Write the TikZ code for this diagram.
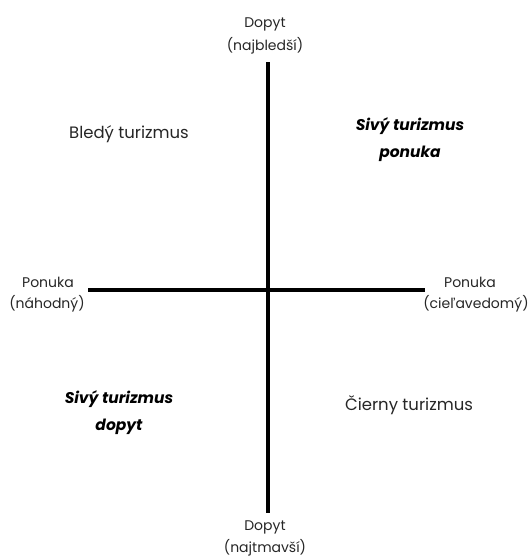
\documentclass[tikz,border=0pt]{standalone}
\usepackage{fontspec}
\setmainfont{Poppins}
\begin{document}
\begin{tikzpicture}[x=1pt,y=-1pt,
  lbl/.style={font=\fontsize{14}{16}\selectfont, text=black!85, align=center, inner sep=0pt},
  big/.style={font=\fontsize{16.5}{18}\selectfont, text=black!85, inner sep=0pt},
  bigbold/.style={font=\fontsize{15.5}{27}\selectfont\bfseries\itshape, text=black, align=center, inner sep=0pt},
  axis/.style={line width=4.5pt, black}]
\useasboundingbox (0,0) rectangle (531,558);
\coordinate (vt) at (268,62);
\coordinate (vb) at (268,513);
\coordinate (hl) at (88,290);
\coordinate (hr) at (425,290);
\draw[axis] (vt) -- (vb);
\draw[axis] (hl) -- (hr);
\node[lbl] (top1) at (265,24) {Dopyt};
\node[lbl] (top2) at (265,46) {(najbledší)};
\node[lbl] (bot1) at (265,527) {Dopyt};
\node[lbl] (bot2) at (265,548) {(najtmavší)};
\node[lbl] (l1) at (48,282) {Ponuka};
\node[lbl] (l2) at (47,304) {(náhodný)};
\node[lbl] (r1) at (470,282) {Ponuka};
\node[lbl] (r2) at (476,304) {(cieľavedomý)};
\node[big] (q1) at (129,134) {Bledý turizmus};
\node[big] (q4) at (409,405) {Čierny turizmus};
\node[bigbold] (q2) at (410,140) {Sivý turizmus\\ponuka};
\node[bigbold] (q3) at (119,413) {Sivý turizmus\\dopyt};
\end{tikzpicture}
\end{document}
